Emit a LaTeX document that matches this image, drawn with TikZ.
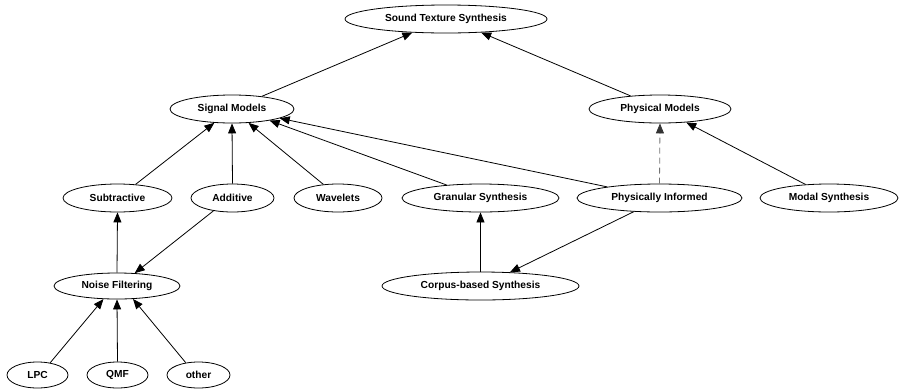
\documentclass[tikz,border=0pt]{standalone}
\usepackage{fontspec}
\setmainfont{Liberation Sans}
\usetikzlibrary{shapes.geometric,arrows.meta}
\begin{document}
\begin{tikzpicture}[x=1pt,y=-1pt,
  concept/.style={ellipse,draw,line width=0.8pt,inner sep=0pt,font=\fontsize{10.2}{12}\selectfont\bfseries},
  link/.style={line width=0.8pt,-{Triangle[length=10pt,width=8pt]}},
  dlink/.style={line width=0.8pt,draw=black!55,dash pattern=on 6pt off 4pt,-{Triangle[length=10pt,width=8pt,color=black!80]}}]
\useasboundingbox (0,0) rectangle (899,389);
\node[concept,minimum width=202pt,minimum height=28pt] (sts) at (446,19) {Sound Texture Synthesis};
\node[concept,minimum width=124pt,minimum height=28pt] (sm) at (232,109) {Signal Models};
\node[concept,minimum width=142pt,minimum height=28pt] (pm) at (660,109) {Physical Models};
\node[concept,minimum width=109pt,minimum height=28pt] (sub) at (117.5,198) {Subtractive};
\node[concept,minimum width=83pt,minimum height=28pt] (add) at (232.5,198) {Additive};
\node[concept,minimum width=88pt,minimum height=28pt] (wav) at (338,198) {Wavelets};
\node[concept,minimum width=157pt,minimum height=28pt] (gran) at (480.5,198) {Granular Synthesis};
\node[concept,minimum width=165pt,minimum height=28pt] (pi) at (659.5,198) {Physically Informed};
\node[concept,minimum width=138pt,minimum height=28pt] (modal) at (829,198) {Modal Synthesis};
\node[concept,minimum width=126pt,minimum height=26pt] (nf) at (117,286) {Noise Filtering};
\node[concept,minimum width=197pt,minimum height=28pt] (corpus) at (480.5,286) {Corpus-based Synthesis};
\node[concept,minimum width=61pt,minimum height=26pt] (lpc) at (37.5,375) {LPC};
\node[concept,minimum width=61pt,minimum height=26pt] (qmf) at (117.5,375) {QMF};
\node[concept,minimum width=63pt,minimum height=26pt] (other) at (198.5,375) {other};
\draw[link] (sm.23) -- (sts.-158);
\draw[link] (pm.156) -- (sts.-21);
\draw[link] (sub.37) -- (sm.-142);
\draw[link] (add.north) -- (sm.south);
\draw[link] (wav.137) -- (sm.-40);
\draw[link] (gran.159) -- (sm.-17);
\draw[link] (pi.168) -- (sm.-11);
\draw[dlink] (pi.north) -- (pm.south);
\draw[link] (modal.150) -- (pm.-27);
\draw[link] (nf.north) -- (sub.south);
\draw[link] (add.214) -- (nf.36);
\draw[link] (corpus.north) -- (gran.south);
\draw[link] (pi.208) -- (corpus.25);
\draw[link] (lpc.44) -- (nf.-136);
\draw[link] (qmf.north) -- (nf.south);
\draw[link] (other.136) -- (nf.-39);
\end{tikzpicture}
\end{document}
